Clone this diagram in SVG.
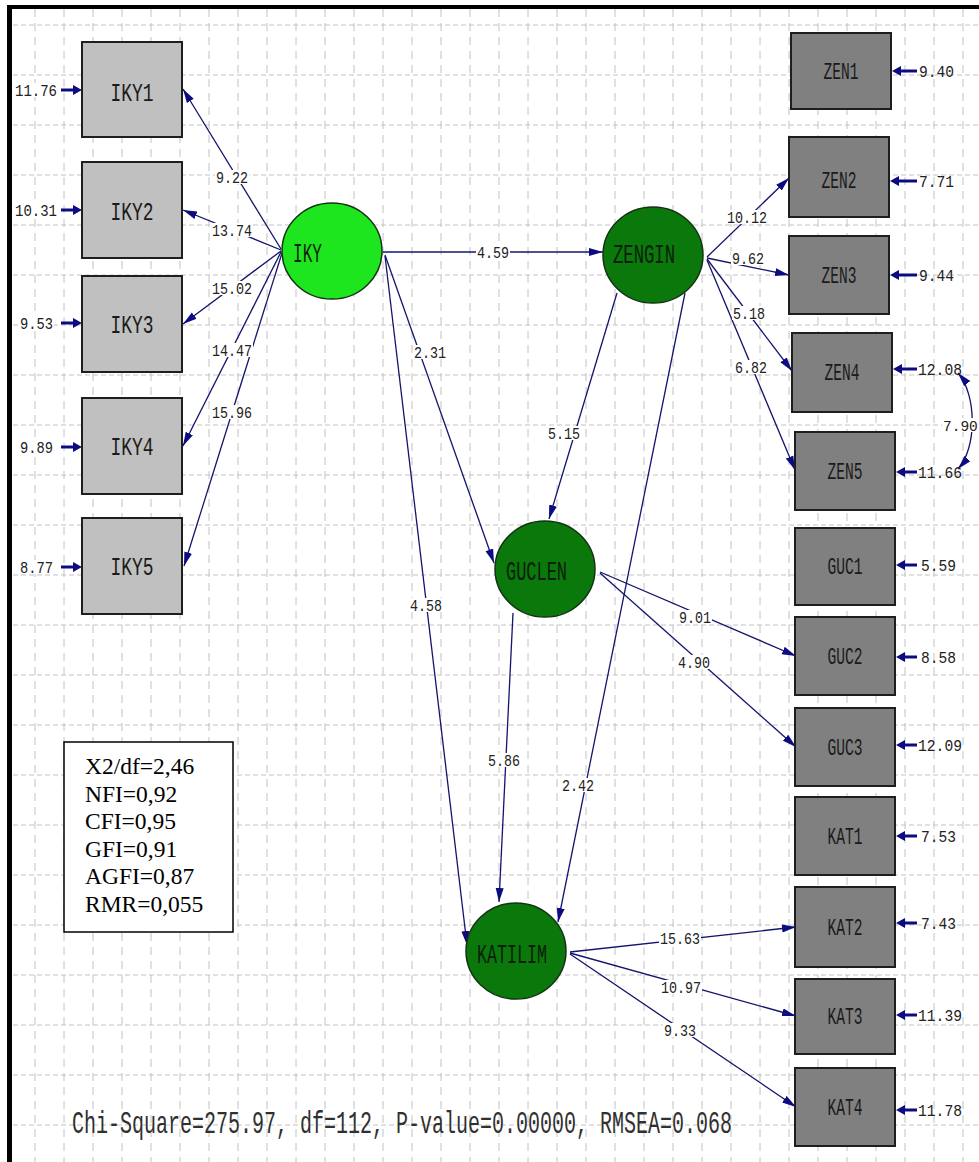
<svg xmlns="http://www.w3.org/2000/svg" width="979" height="1162" viewBox="0 0 979 1162">
<style>
.gh{stroke:#c2c2c2;stroke-width:1;stroke-dasharray:5 3;fill:none}
.gv{stroke:#c2c2c2;stroke-width:1;stroke-dasharray:8 6;fill:none}
.c{stroke:#14146e;stroke-width:1.3;fill:none;marker-end:url(#ah)}
.cv{stroke:#14146e;stroke-width:1.3;fill:none;marker-start:url(#ah2);marker-end:url(#ah2)}
.e{stroke:#0c0c80;stroke-width:3;fill:none;marker-end:url(#ae)}
.lb{fill:#fff}
.t{font-family:"Liberation Mono","DejaVu Sans Mono",monospace;font-size:17px;fill:#222}
.b1{fill:#c0c0c0;stroke:#1e1e1e;stroke-width:2}
.b2{fill:#808080;stroke:#1e1e1e;stroke-width:2}
.nl{font-family:"Liberation Mono","DejaVu Sans Mono",monospace;font-size:25px;fill:#1a1a1a}
.nr{font-family:"Liberation Mono","DejaVu Sans Mono",monospace;font-size:23px;fill:#1a1a1a}
.el{font-family:"Liberation Mono","DejaVu Sans Mono",monospace;font-size:28px;fill:#0a1e0a}
.lv1{fill:#1ee61e;stroke:#143214;stroke-width:1.5}
.lv2{fill:#0a780a;stroke:#143214;stroke-width:1.5}
.fit{font-family:"Liberation Serif","Times New Roman",serif;font-size:23.5px;fill:#000}
</style>
<defs>
<marker id="ah" markerUnits="userSpaceOnUse" markerWidth="15" markerHeight="9" refX="14" refY="4.5" orient="auto"><path d="M0,0.5 L14,4.5 L0,8.5 Z" fill="#0c0c80"/></marker>
<marker id="ah2" markerUnits="userSpaceOnUse" markerWidth="15" markerHeight="9" refX="14" refY="4.5" orient="auto-start-reverse"><path d="M0,0.5 L14,4.5 L0,8.5 Z" fill="#0c0c80"/></marker>
<marker id="ae" markerUnits="userSpaceOnUse" markerWidth="10" markerHeight="10" refX="0" refY="5" orient="auto"><path d="M0,0 L9,5 L0,10 Z" fill="#0c0c80"/></marker>
</defs>
<rect x="0" y="0" width="979" height="1162" fill="#fff"/>
<g id="grid">
<path class="gh" d="M13 25H979M13 75H979M13 125H979M13 175H979M13 225H979M13 275H979M13 325H979M13 375H979M13 425H979M13 475H979M13 525H979M13 575H979M13 625H979M13 675H979M13 725H979M13 775H979M13 825H979M13 875H979M13 925H979M13 975H979M13 1025H979M13 1075H979M13 1125H979"/>
<path class="gv" d="M35 9V1162M64 9V1162M93 9V1162M122 9V1162M151 9V1162M180 9V1162M209 9V1162M238 9V1162M267 9V1162M296 9V1162M325 9V1162M354 9V1162M383 9V1162M412 9V1162M441 9V1162M470 9V1162M499 9V1162M528 9V1162M557 9V1162M586 9V1162M615 9V1162M644 9V1162M673 9V1162M702 9V1162M731 9V1162M760 9V1162M789 9V1162M818 9V1162M847 9V1162M876 9V1162M905 9V1162M934 9V1162M963 9V1162"/>
</g>
<rect x="7" y="5" width="972" height="4" fill="#000"/>
<rect x="7" y="5" width="5" height="1157" fill="#000"/>
<g id="connectors">
<line class="c" x1="281" y1="249" x2="183" y2="89"/>
<line class="c" x1="281" y1="250" x2="183" y2="210"/>
<line class="c" x1="281" y1="251" x2="183" y2="324"/>
<line class="c" x1="281" y1="252" x2="183" y2="446"/>
<line class="c" x1="282" y1="253" x2="184" y2="566"/>
<line class="c" x1="383" y1="252" x2="603" y2="252"/>
<line class="c" x1="385" y1="255" x2="494" y2="563"/>
<line class="c" x1="385" y1="256" x2="467" y2="945"/>
<line class="c" x1="617" y1="293" x2="549" y2="519"/>
<line class="c" x1="685" y1="293" x2="558" y2="922"/>
<line class="c" x1="513" y1="613" x2="499" y2="902"/>
<line class="c" x1="600" y1="572" x2="796" y2="656"/>
<line class="c" x1="600" y1="573" x2="796" y2="747"/>
<line class="c" x1="707" y1="257" x2="789" y2="178"/>
<line class="c" x1="707" y1="258" x2="789" y2="275"/>
<line class="c" x1="707" y1="259" x2="792" y2="371"/>
<line class="c" x1="707" y1="260" x2="795" y2="470"/>
<line class="c" x1="570" y1="952" x2="796" y2="927"/>
<line class="c" x1="570" y1="953" x2="796" y2="1016"/>
<line class="c" x1="570" y1="954" x2="796" y2="1107"/>
<path class="cv" d="M958 373 C977 395 977 448 958 469"/>
<line class="e" x1="61" y1="90" x2="73" y2="90"/>
<line class="e" x1="61" y1="210" x2="73" y2="210"/>
<line class="e" x1="61" y1="323" x2="73" y2="323"/>
<line class="e" x1="61" y1="447" x2="73" y2="447"/>
<line class="e" x1="61" y1="567" x2="73" y2="567"/>
<line class="e" x1="917" y1="71" x2="901" y2="71"/>
<line class="e" x1="917" y1="181" x2="899" y2="181"/>
<line class="e" x1="917" y1="275" x2="899" y2="275"/>
<line class="e" x1="917" y1="369" x2="902" y2="369"/>
<line class="e" x1="917" y1="472" x2="905" y2="472"/>
<line class="e" x1="917" y1="565" x2="905" y2="565"/>
<line class="e" x1="917" y1="657" x2="905" y2="657"/>
<line class="e" x1="917" y1="745" x2="905" y2="745"/>
<line class="e" x1="917" y1="836" x2="905" y2="836"/>
<line class="e" x1="917" y1="923" x2="905" y2="923"/>
<line class="e" x1="917" y1="1015" x2="905" y2="1015"/>
<line class="e" x1="917" y1="1110" x2="905" y2="1110"/>
<g id="path-labels">
<rect class="lb" x="215" y="170" width="34" height="14"/><text class="t" x="216" y="183" textLength="32" lengthAdjust="spacingAndGlyphs">9.22</text>
<rect class="lb" x="211" y="223" width="42" height="14"/><text class="t" x="212" y="236" textLength="40" lengthAdjust="spacingAndGlyphs">13.74</text>
<rect class="lb" x="211" y="281" width="42" height="14"/><text class="t" x="212" y="294" textLength="40" lengthAdjust="spacingAndGlyphs">15.02</text>
<rect class="lb" x="211" y="343" width="42" height="14"/><text class="t" x="212" y="356" textLength="40" lengthAdjust="spacingAndGlyphs">14.47</text>
<rect class="lb" x="211" y="405" width="42" height="14"/><text class="t" x="212" y="418" textLength="40" lengthAdjust="spacingAndGlyphs">15.96</text>
<rect class="lb" x="476" y="245" width="34" height="14"/><text class="t" x="477" y="258" textLength="32" lengthAdjust="spacingAndGlyphs">4.59</text>
<rect class="lb" x="413" y="345" width="34" height="14"/><text class="t" x="414" y="358" textLength="32" lengthAdjust="spacingAndGlyphs">2.31</text>
<rect class="lb" x="409" y="598" width="34" height="14"/><text class="t" x="410" y="611" textLength="32" lengthAdjust="spacingAndGlyphs">4.58</text>
<rect class="lb" x="547" y="426" width="34" height="14"/><text class="t" x="548" y="439" textLength="32" lengthAdjust="spacingAndGlyphs">5.15</text>
<rect class="lb" x="561" y="778" width="34" height="14"/><text class="t" x="562" y="791" textLength="32" lengthAdjust="spacingAndGlyphs">2.42</text>
<rect class="lb" x="487" y="753" width="34" height="14"/><text class="t" x="488" y="766" textLength="32" lengthAdjust="spacingAndGlyphs">5.86</text>
<rect class="lb" x="678" y="610" width="34" height="14"/><text class="t" x="679" y="623" textLength="32" lengthAdjust="spacingAndGlyphs">9.01</text>
<rect class="lb" x="677" y="655" width="34" height="14"/><text class="t" x="678" y="668" textLength="32" lengthAdjust="spacingAndGlyphs">4.90</text>
<rect class="lb" x="726" y="210" width="42" height="14"/><text class="t" x="727" y="223" textLength="40" lengthAdjust="spacingAndGlyphs">10.12</text>
<rect class="lb" x="731" y="251" width="34" height="14"/><text class="t" x="732" y="264" textLength="32" lengthAdjust="spacingAndGlyphs">9.62</text>
<rect class="lb" x="732" y="306" width="34" height="14"/><text class="t" x="733" y="319" textLength="32" lengthAdjust="spacingAndGlyphs">5.18</text>
<rect class="lb" x="734" y="360" width="34" height="14"/><text class="t" x="735" y="373" textLength="32" lengthAdjust="spacingAndGlyphs">6.82</text>
<rect class="lb" x="659" y="931" width="42" height="14"/><text class="t" x="660" y="944" textLength="40" lengthAdjust="spacingAndGlyphs">15.63</text>
<rect class="lb" x="660" y="980" width="42" height="14"/><text class="t" x="661" y="993" textLength="40" lengthAdjust="spacingAndGlyphs">10.97</text>
<rect class="lb" x="663" y="1023" width="34" height="14"/><text class="t" x="664" y="1036" textLength="32" lengthAdjust="spacingAndGlyphs">9.33</text>
<rect class="lb" x="942" y="418" width="37" height="14"/><text class="t" x="943" y="431" style="font-size:14.5px">7.90</text>
</g>
</g>
<g id="IKY1"><rect class="b1" x="82" y="42" width="100" height="95"/><text class="nl" x="110.5" y="101" textLength="43" lengthAdjust="spacingAndGlyphs">IKY1</text><rect class="lb" x="14" y="83" width="44" height="14"/><text class="t" x="15" y="96" textLength="42" lengthAdjust="spacingAndGlyphs">11.76</text></g>
<g id="IKY2"><rect class="b1" x="82" y="162" width="100" height="96"/><text class="nl" x="110.5" y="220" textLength="43" lengthAdjust="spacingAndGlyphs">IKY2</text><rect class="lb" x="14" y="203" width="44" height="14"/><text class="t" x="15" y="216" textLength="42" lengthAdjust="spacingAndGlyphs">10.31</text></g>
<g id="IKY3"><rect class="b1" x="82" y="276" width="100" height="96"/><text class="nl" x="110.5" y="333" textLength="43" lengthAdjust="spacingAndGlyphs">IKY3</text><rect class="lb" x="19" y="316" width="35" height="14"/><text class="t" x="20" y="329" textLength="33" lengthAdjust="spacingAndGlyphs">9.53</text></g>
<g id="IKY4"><rect class="b1" x="82" y="398" width="100" height="96"/><text class="nl" x="110.5" y="455" textLength="43" lengthAdjust="spacingAndGlyphs">IKY4</text><rect class="lb" x="19" y="440" width="35" height="14"/><text class="t" x="20" y="453" textLength="33" lengthAdjust="spacingAndGlyphs">9.89</text></g>
<g id="IKY5"><rect class="b1" x="82" y="518" width="100" height="96"/><text class="nl" x="110.5" y="575" textLength="43" lengthAdjust="spacingAndGlyphs">IKY5</text><rect class="lb" x="19" y="560" width="35" height="14"/><text class="t" x="20" y="573" textLength="33" lengthAdjust="spacingAndGlyphs">8.77</text></g>
<g id="IKY"><ellipse class="lv1" cx="332" cy="251" rx="50" ry="48"/><text class="el" x="293" y="262" textLength="29" lengthAdjust="spacingAndGlyphs">IKY</text></g>
<g id="ZENGIN"><ellipse class="lv2" cx="653" cy="255" rx="50" ry="48"/><text class="el" x="613" y="263" textLength="62" lengthAdjust="spacingAndGlyphs">ZENGIN</text></g>
<g id="GUCLEN"><ellipse class="lv2" cx="545" cy="569" rx="50" ry="48"/><text class="el" x="506" y="580" textLength="61" lengthAdjust="spacingAndGlyphs">GUCLEN</text></g>
<g id="KATILIM"><ellipse class="lv2" cx="516" cy="951" rx="50" ry="48"/><text class="el" x="477" y="963" textLength="70" lengthAdjust="spacingAndGlyphs">KATILIM</text></g>
<g id="ZEN1"><rect class="b2" x="791" y="33" width="100" height="76"/><text class="nr" x="823.5" y="79" textLength="35" lengthAdjust="spacingAndGlyphs">ZEN1</text><text class="t" x="919" y="77" textLength="35" lengthAdjust="spacingAndGlyphs">9.40</text></g>
<g id="ZEN2"><rect class="b2" x="789" y="137" width="100" height="80"/><text class="nr" x="821.5" y="188" textLength="35" lengthAdjust="spacingAndGlyphs">ZEN2</text><text class="t" x="919" y="187" textLength="35" lengthAdjust="spacingAndGlyphs">7.71</text></g>
<g id="ZEN3"><rect class="b2" x="789" y="236" width="100" height="78"/><text class="nr" x="821.5" y="283" textLength="35" lengthAdjust="spacingAndGlyphs">ZEN3</text><text class="t" x="919" y="281" textLength="35" lengthAdjust="spacingAndGlyphs">9.44</text></g>
<g id="ZEN4"><rect class="b2" x="792" y="333" width="100" height="79"/><text class="nr" x="824.5" y="380" textLength="35" lengthAdjust="spacingAndGlyphs">ZEN4</text><text class="t" x="918" y="375" textLength="44" lengthAdjust="spacingAndGlyphs">12.08</text></g>
<g id="ZEN5"><rect class="b2" x="795" y="432" width="100" height="78"/><text class="nr" x="827.5" y="479" textLength="35" lengthAdjust="spacingAndGlyphs">ZEN5</text><text class="t" x="918" y="478" textLength="44" lengthAdjust="spacingAndGlyphs">11.66</text></g>
<g id="GUC1"><rect class="b2" x="795" y="528" width="100" height="77"/><text class="nr" x="827.5" y="574" textLength="35" lengthAdjust="spacingAndGlyphs">GUC1</text><text class="t" x="921" y="571" textLength="35" lengthAdjust="spacingAndGlyphs">5.59</text></g>
<g id="GUC2"><rect class="b2" x="795" y="617" width="100" height="78"/><text class="nr" x="827.5" y="664" textLength="35" lengthAdjust="spacingAndGlyphs">GUC2</text><text class="t" x="921" y="663" textLength="35" lengthAdjust="spacingAndGlyphs">8.58</text></g>
<g id="GUC3"><rect class="b2" x="795" y="708" width="100" height="78"/><text class="nr" x="827.5" y="755" textLength="35" lengthAdjust="spacingAndGlyphs">GUC3</text><text class="t" x="918" y="751" textLength="44" lengthAdjust="spacingAndGlyphs">12.09</text></g>
<g id="KAT1"><rect class="b2" x="795" y="797" width="100" height="78"/><text class="nr" x="827.5" y="844" textLength="35" lengthAdjust="spacingAndGlyphs">KAT1</text><text class="t" x="921" y="842" textLength="35" lengthAdjust="spacingAndGlyphs">7.53</text></g>
<g id="KAT2"><rect class="b2" x="795" y="887" width="100" height="80"/><text class="nr" x="827.5" y="935" textLength="35" lengthAdjust="spacingAndGlyphs">KAT2</text><text class="t" x="921" y="929" textLength="35" lengthAdjust="spacingAndGlyphs">7.43</text></g>
<g id="KAT3"><rect class="b2" x="795" y="979" width="100" height="75"/><text class="nr" x="827.5" y="1024" textLength="35" lengthAdjust="spacingAndGlyphs">KAT3</text><text class="t" x="918" y="1021" textLength="44" lengthAdjust="spacingAndGlyphs">11.39</text></g>
<g id="KAT4"><rect class="b2" x="795" y="1068" width="100" height="78"/><text class="nr" x="827.5" y="1115" textLength="35" lengthAdjust="spacingAndGlyphs">KAT4</text><text class="t" x="918" y="1116" textLength="44" lengthAdjust="spacingAndGlyphs">11.78</text></g>
<g id="fit-indices">
<rect x="64" y="742" width="169" height="190" fill="#fff" stroke="#000" stroke-width="1.5"/>
<text class="fit" x="85" y="774">X2/df=2,46</text>
<text class="fit" x="85" y="802">NFI=0,92</text>
<text class="fit" x="85" y="829">CFI=0,95</text>
<text class="fit" x="85" y="857">GFI=0,91</text>
<text class="fit" x="85" y="884">AGFI=0,87</text>
<text class="fit" x="85" y="912">RMR=0,055</text>
</g>
<text id="summary" transform="translate(72 1133) scale(1 1.6)" x="0" y="0" font-family="Liberation Mono, DejaVu Sans Mono, monospace" font-size="20" fill="#303030" textLength="660" lengthAdjust="spacingAndGlyphs">Chi-Square=275.97, df=112, P-value=0.00000, RMSEA=0.068</text>
</svg>
